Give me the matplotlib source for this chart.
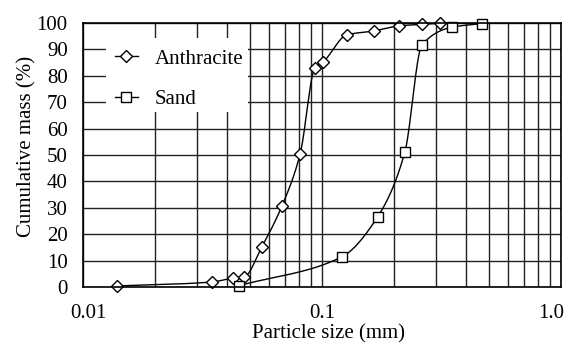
import numpy as np
import matplotlib
matplotlib.use("Agg")
import matplotlib.pyplot as plt
from matplotlib.patches import Rectangle
from matplotlib.transforms import ScaledTranslation

plt.rcParams['font.family'] = ['Liberation Serif', 'DejaVu Serif']

# Data
anth_size = [0.0139, 0.0347, 0.0424, 0.0472, 0.056, 0.068, 0.081, 0.0935, 0.101, 0.127, 0.165, 0.21, 0.262, 0.312]
anth_mass = [0.4, 1.9, 3.4, 3.8, 15.2, 30.7, 50.4, 83.0, 85.2, 95.5, 97.0, 98.9, 99.5, 99.9]
sand_size = [0.045, 0.121, 0.171, 0.222, 0.262, 0.35, 0.467]
sand_mass = [0.5, 11.4, 26.6, 51.0, 91.7, 98.4, 99.8]
xtick_vals = [0.01, 0.1, 1.0]
xtick_labels = ['0.01', '0.1', '1.0']
ytick_vals = list(range(0, 101, 10))

FS = 15


def pchip(x, y, xs):
    x = np.asarray(x, float); y = np.asarray(y, float)
    h = np.diff(x); d = np.diff(y) / h
    n = len(x)
    m = np.zeros(n)
    for k in range(1, n - 1):
        if d[k - 1] * d[k] <= 0:
            m[k] = 0
        else:
            w1 = 2 * h[k] + h[k - 1]; w2 = h[k] + 2 * h[k - 1]
            m[k] = (w1 + w2) / (w1 / d[k - 1] + w2 / d[k])
    m[0] = d[0]; m[-1] = d[-1]
    idx = np.clip(np.searchsorted(x, xs) - 1, 0, n - 2)
    t = (xs - x[idx]) / h[idx]
    h00 = 2 * t**3 - 3 * t**2 + 1; h10 = t**3 - 2 * t**2 + t
    h01 = -2 * t**3 + 3 * t**2; h11 = t**3 - t**2
    return h00 * y[idx] + h10 * h[idx] * m[idx] + h01 * y[idx + 1] + h11 * h[idx] * m[idx + 1]


def smooth(xv, yv):
    lx = np.log10(xv)
    xs = np.linspace(lx[0], lx[-1], 400)
    return 10 ** xs, pchip(lx, yv, xs)

fig = plt.figure(figsize=(5.65, 3.45), dpi=100)
ax = fig.add_axes([83/565, 1 - 287/345, 478/565, 264/345])
ax.set_xscale('log')
ax.set_xlim(0.01, 1.0)
ax.set_ylim(0, 100)
ax.set_axisbelow(True)
ax.grid(True, which='both', axis='both', color='#222222', linewidth=1.0)
ax.set_yticks(ytick_vals)
ax.set_xticks(xtick_vals)
ax.set_xticklabels(xtick_labels)
ax.tick_params(axis='both', which='both', length=0, labelsize=FS)
ax.tick_params(axis='y', pad=11)
ax.tick_params(axis='x', pad=12)
for sp in ax.spines.values():
    sp.set_linewidth(1.2)
    sp.set_zorder(5)

# offsets of x tick labels as in the reference
offs = [5, 0, -10]
for lab, o in zip(ax.get_xticklabels(), offs):
    lab.set_transform(lab.get_transform() + ScaledTranslation(o/100, 0, fig.dpi_scale_trans))

ax.add_patch(Rectangle((23/478, 1 - (112 - 23)/264), 142/478, 74/264,
                       transform=ax.transAxes, facecolor='white', edgecolor='none', zorder=1))

sx, sy = smooth(anth_size, anth_mass)
ax.plot(sx, sy, color='black', lw=1.0, zorder=3)
ax.plot(anth_size, anth_mass, linestyle='none', marker='D', markersize=6.5,
        markerfacecolor='white', markeredgecolor='black', markeredgewidth=1.0, zorder=4, clip_on=False)
sx, sy = smooth(sand_size, sand_mass)
ax.plot(sx, sy, color='black', lw=1.0, zorder=3)
ax.plot(sand_size, sand_mass, linestyle='none', marker='s', markersize=7,
        markerfacecolor='white', markeredgecolor='black', markeredgewidth=1.0, zorder=4, clip_on=False)

h1, = ax.plot([], [], color='black', lw=1.0, marker='D', markersize=6,
              markerfacecolor='white', markeredgecolor='black', label='Anthracite')
h2, = ax.plot([], [], color='black', lw=1.0, marker='s', markersize=7,
              markerfacecolor='white', markeredgecolor='black', label='Sand')
leg = ax.legend(handles=[h1, h2], loc='upper left', bbox_to_anchor=(32/478, (287 - 49)/264),
                frameon=False, fontsize=FS, handlelength=1.1, handletextpad=0.8,
                labelspacing=1.0, borderpad=0, borderaxespad=0)
leg.set_zorder(6)

ax.set_xlabel('Particle size (mm)', fontsize=FS)
ax.xaxis.set_label_coords((328 - 83)/478, (287 - 324)/264)
ax.set_ylabel('Cumulative mass (%)', fontsize=FS)
ax.yaxis.set_label_coords((36 - 83)/478, (287 - 146.5)/264)

fig.savefig('out.png', dpi=100)
